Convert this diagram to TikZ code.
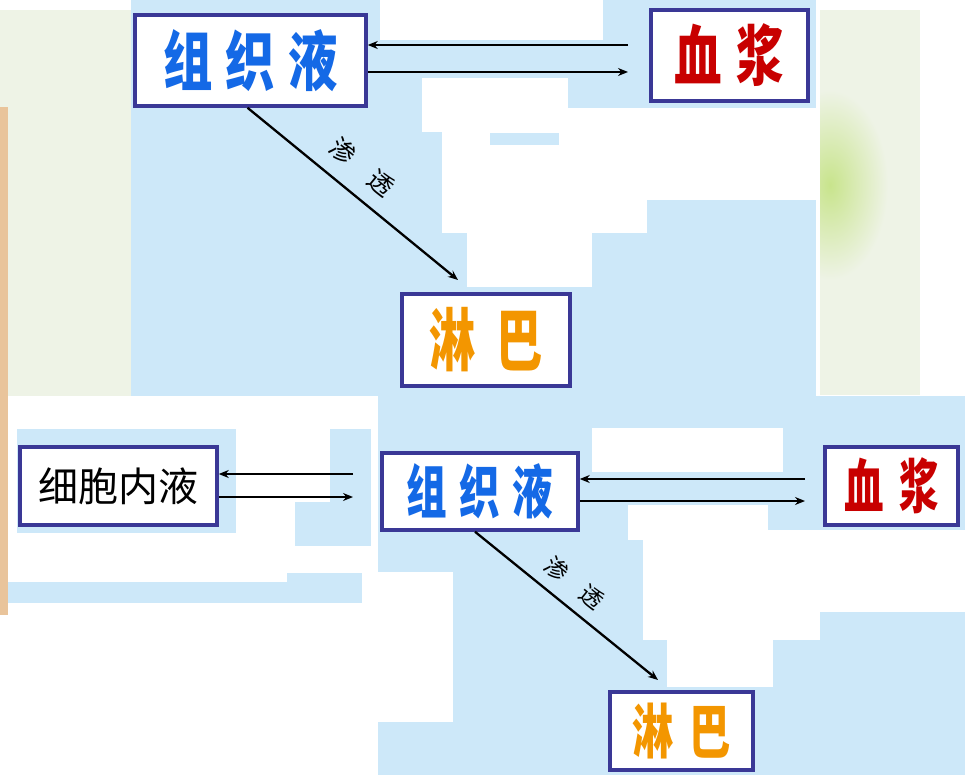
\documentclass[tikz,border=0pt]{standalone}
\usepackage{fontspec}
\usepackage{graphicx}
\newfontfamily\cjk{Noto Sans CJK SC}
\usetikzlibrary{arrows.meta}
\definecolor{lblue}{RGB}{205,232,249}
\definecolor{pgreen}{RGB}{238,243,230}
\definecolor{blob}{RGB}{200,228,140}
\definecolor{tanc}{RGB}{233,196,155}
\definecolor{boxc}{RGB}{58,56,150}
\definecolor{tblue}{RGB}{20,105,230}
\definecolor{tred}{RGB}{200,0,0}
\definecolor{torange}{RGB}{243,150,0}
\newcommand\hz[5]{\scalebox{#2}[1]{\cjk\bfseries\fontsize{#1}{#1}\selectfont #4\hspace{#3}#5}}
\newcommand\hzz[6]{\scalebox{#2}[1]{\cjk\bfseries\fontsize{#1}{#1}\selectfont #4\hspace{#3}#5\hspace{#3}#6}}
\begin{document}
\begin{tikzpicture}[x=1pt,y=-1pt,
  box/.style={draw=boxc,line width=3.5pt,fill=white,inner sep=0pt},
  arr/.style={draw=black,line width=2.3pt,-{Stealth[length=10pt,width=8pt]}},
  lab/.style={font=\cjk\fontsize{25}{25}\selectfont,inner sep=0pt,sloped}]
\useasboundingbox (0,0) rectangle (979,775);
\fill[white] (0,0) rectangle (979,775);
% panels
\fill[pgreen] (0,10) rectangle (131,396);
\fill[pgreen] (820,10) rectangle (920,395);
\begin{scope}
\clip (820,10) rectangle (920,395);
\shade[inner color=blob,outer color=pgreen] (830,185) ellipse (58 and 95);
\end{scope}
\fill[tanc] (0,107) rectangle (8,615);
% top blue region
\fill[lblue] (131,0) rectangle (816,396);
\fill[white] (380,0) rectangle (603,40);
\fill[white] (422,78) rectangle (568,132);
\fill[white] (568,108) rectangle (816,200);
\fill[white] (442,132) rectangle (568,200);
\fill[lblue] (490,133) rectangle (559,145);
\fill[white] (442,200) rectangle (647,233);
\fill[white] (467,233) rectangle (592,287);
% bottom right blue region
\fill[lblue] (378,396) rectangle (965,775);
\fill[white] (378,572) rectangle (453,722);
\fill[white] (592,428) rectangle (783,472);
\fill[white] (628,505) rectangle (768,540);
\fill[white] (643,540) rectangle (785,565);
\fill[white] (745,530) rectangle (965,612);
\fill[white] (643,565) rectangle (820,640);
\fill[white] (667,640) rectangle (773,687);
% bottom left blue patches
\fill[lblue] (17,429) rectangle (236,533);
\fill[lblue] (330,429) rectangle (371,546);
\fill[lblue] (295,502) rectangle (330,546);
\fill[lblue] (8,582) rectangle (287,603);
\fill[lblue] (287,573) rectangle (362,603);
% top diagram
\node[box,minimum width=231pt,minimum height=91pt] (zz1) at (250.5,60.5)
  {\color{tblue}\hzz{65}{0.76}{17pt}{组}{织}{液}};
\node[box,minimum width=157pt,minimum height=91pt] (xj1) at (729.5,55.5)
  {\color{tred}\hz{66}{0.72}{20pt}{血}{浆}};
\node[box,minimum width=168pt,minimum height=92pt] (lb1) at (486,340)
  {\color{torange}\hz{68}{0.68}{30pt}{淋}{巴}};
\coordinate (t1) at (628,45);
\coordinate (t2) at (628,72);
\draw[arr] (t1) -- (zz1.east |- t1);
\draw[arr] (zz1.east |- t2) -- (t2);
\coordinate (d1) at (458,280);
\draw[arr] ([xshift=-3pt]zz1.south) -- (d1)
  node[lab,pos=0.465,above=14pt] {渗\hspace{25pt}透};
% bottom diagram
\node[box,minimum width=197pt,minimum height=78pt] (xb) at (118.5,486)
  {\cjk\fontsize{40}{40}\selectfont 细胞内液};
\node[box,minimum width=196pt,minimum height=77pt] (zz2) at (480,491.5)
  {\color{tblue}\hzz{58}{0.7}{18pt}{组}{织}{液}};
\node[box,minimum width=133pt,minimum height=78pt] (xj2) at (891.5,486)
  {\color{tred}\hz{59}{0.67}{23pt}{血}{浆}};
\node[box,minimum width=143pt,minimum height=78pt] (lb2) at (681.5,731)
  {\color{torange}\hz{59}{0.7}{23pt}{淋}{巴}};
\coordinate (b1) at (353,474);
\coordinate (b2) at (353,497);
\draw[arr] (b1) -- (xb.east |- b1);
\draw[arr] (xb.east |- b2) -- (b2);
\coordinate (r1) at (805,479);
\coordinate (r2) at (805,501);
\draw[arr] (r1) -- (zz2.east |- r1);
\draw[arr] (zz2.east |- r2) -- (r2);
\coordinate (d2) at (658,680);
\draw[arr] ([xshift=-5pt]zz2.south) -- (d2)
  node[lab,pos=0.465,above=11pt,font=\cjk\fontsize{23}{23}\selectfont] {渗\hspace{22pt}透};
\end{tikzpicture}
\end{document}
